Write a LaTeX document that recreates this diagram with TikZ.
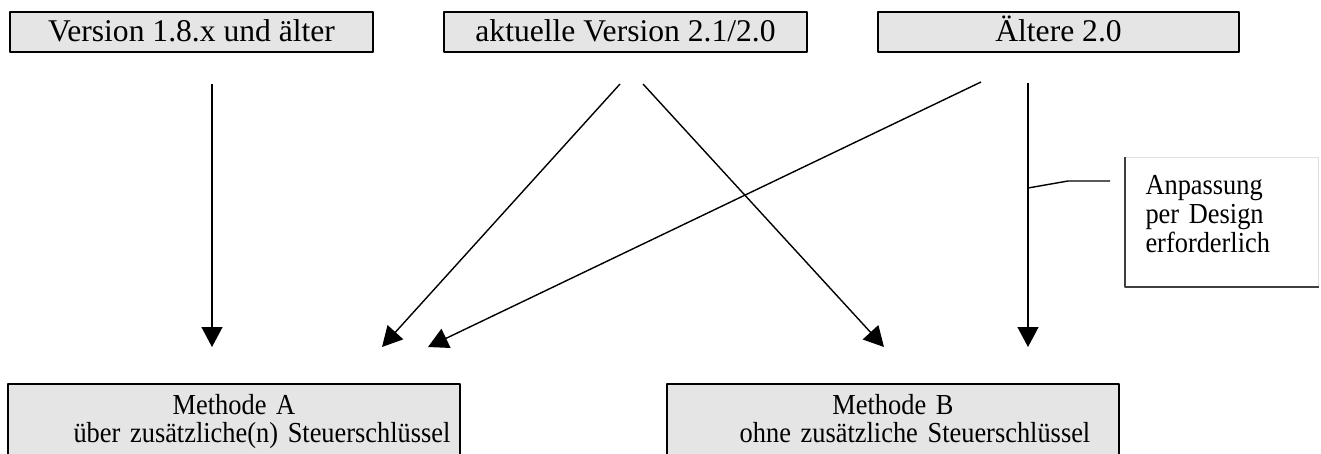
\documentclass[tikz,border=0pt]{standalone}
\usepackage{fontspec}
\setmainfont{Liberation Serif}
\newfontfamily\schmal[FakeStretch=0.91]{Liberation Serif}
\usetikzlibrary{arrows.meta}
\begin{document}
\begin{tikzpicture}[x=0.5pt,y=-0.5pt, line join=round,
		version/.style={draw, line width=1pt, fill=black!10, minimum width=181.5pt, minimum height=20pt, inner sep=0pt, text height=12pt, text depth=2pt, font=\fontsize{15.8}{19}\selectfont},
		methode/.style={draw, line width=1pt, fill=black!10, anchor=north, text width=226pt, inner sep=0pt, align=center, text height=15pt, text depth=25pt, font=\schmal\fontsize{14.5}{14.25}\selectfont},
		hinweis/.style={draw=black!12, line width=0.5pt, anchor=north west, text width=76.5pt, inner xsep=10pt, inner ysep=0pt, align=left, text height=18.5pt, text depth=46pt, font=\schmal\fontsize{14.5}{14.5}\selectfont},
		pfeil/.style={-{Triangle[length=10pt,width=10.5pt]}, line width=0.7pt}]
	\useasboundingbox (0,0) rectangle (1321,454);
	% Versionen
	\node[version] (v18) at (191.5,32) {Version 1.8.x und älter};
	\node[version] (akt) at (625.5,32) {aktuelle Version 2.1/2.0};
	\node[version, minimum width=180.5pt] (alt) at (1058.5,32) {Ältere 2.0};
	% Methoden
	\node[methode] (mA) at (234,383) {Methode A\\\hspace*{28pt}über zusätzliche(n) Steuerschlüssel};
	\node[methode] (mB) at (893,383) {Methode B\\\hspace*{22pt}ohne zusätzliche Steuerschlüssel};
	% Hinweis
	\node[hinweis] (anp) at (1125,157) {Anpassung\\per Design\\erforderlich};
	\draw[black!75, line width=0.6pt] (anp.north west)--(anp.south west)--(anp.south east);
	% Pfeile
	\coordinate (v18a) at (212,84);   \coordinate (v18e) at (212,347);
	\coordinate (akta) at (620,84);   \coordinate (akte) at (382,347);
	\coordinate (aktb) at (643,84);   \coordinate (aktf) at (884,347);
	\coordinate (alta) at (981,82);   \coordinate (alte) at (428,347);
	\coordinate (altb) at (1028,83);  \coordinate (altf) at (1028,347);
	\draw[pfeil] (v18a)--(v18e);
	\draw[pfeil] (akta)--(akte);
	\draw[pfeil] (aktb)--(aktf);
	\draw[pfeil] (alta)--(alte);
	\draw[pfeil] (altb)--(altf);
	\coordinate (k1) at (1028,188); \coordinate (k2) at (1068,181); \coordinate (k3) at (1110,181);
	\draw[line width=0.7pt] (k1)--(k2)--(k3);
\end{tikzpicture}
\end{document}
